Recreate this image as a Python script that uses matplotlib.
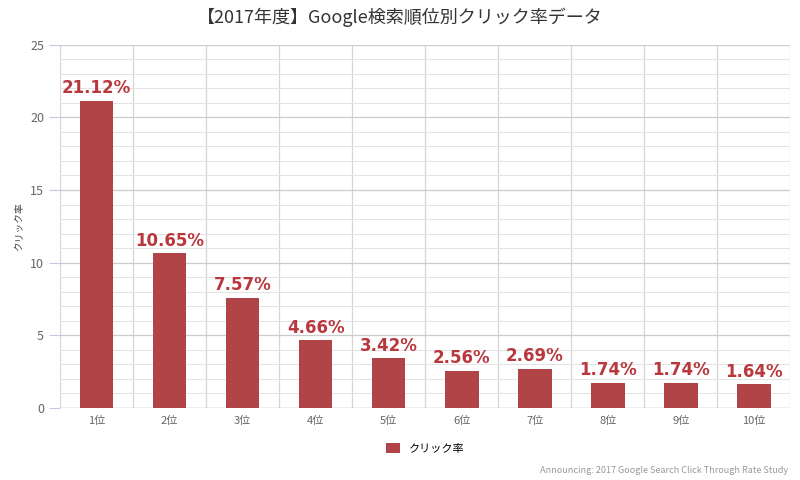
import matplotlib
matplotlib.use("Agg")
import matplotlib.pyplot as plt
import numpy as np

plt.rcParams['font.family'] = ['Noto Sans CJK JP', 'DejaVu Sans']

ranks = ["1位", "2位", "3位", "4位", "5位", "6位", "7位", "8位", "9位", "10位"]
ctr = [21.12, 10.65, 7.57, 4.66, 3.42, 2.56, 2.69, 1.74, 1.74, 1.64]
bar_color = "#b04446"
label_color = "#b8383e"

fig = plt.figure(figsize=(8, 4.8), dpi=100)
ax = fig.add_axes([0.075, 0.15, 0.913, 0.757])

x = np.arange(len(ranks))
ax.bar(x, ctr, width=0.46, color=bar_color, label="クリック率", zorder=3)
for xi, v in zip(x, ctr):
    ax.text(xi, v + 0.25, f"{v:.2f}%", ha="center", va="bottom",
            color=label_color, fontsize=12, fontweight="bold",
            family="DejaVu Sans", zorder=4)

ax.set_xlim(-0.5, len(ranks) - 0.5)
ax.set_ylim(0, 25)
ax.set_xticks(x)
ax.set_xticklabels(ranks, fontsize=8, color="#666666")
ax.set_yticks(range(0, 26, 5))
ax.set_yticks(range(0, 26), minor=True)
ax.tick_params(axis="y", which="major", labelsize=9, labelcolor="#666666",
               color="#c0c8e8", length=8)
ax.tick_params(axis="y", which="minor", length=0)
ax.tick_params(axis="x", length=0, pad=6)
ax.grid(axis="y", which="major", color="#cccccc", lw=0.9, zorder=0)
ax.grid(axis="y", which="minor", color="#e3e3e3", lw=0.7, zorder=0)
for b in np.arange(-0.5, len(ranks), 1.0):
    ax.axvline(b, color="#d5d5d5", lw=0.9, zorder=0)
for s in ax.spines.values():
    s.set_visible(False)
ax.axhline(0, color="#c0c8e8", lw=1, zorder=2)
ax.set_ylabel("クリック率", fontsize=7, color="#444444")

fig.suptitle("【2017年度】Google検索順位別クリック率データ", y=0.985,
             fontsize=13, color="#333333")
ax.legend(loc="upper center", bbox_to_anchor=(0.5, -0.07), frameon=False,
          fontsize=8, handlelength=1.2, handleheight=1.0)
fig.text(0.985, 0.01, "Announcing: 2017 Google Search Click Through Rate Study",
         ha="right", va="bottom", fontsize=6.5, color="#999999")

fig.savefig("out.png", dpi=100)
